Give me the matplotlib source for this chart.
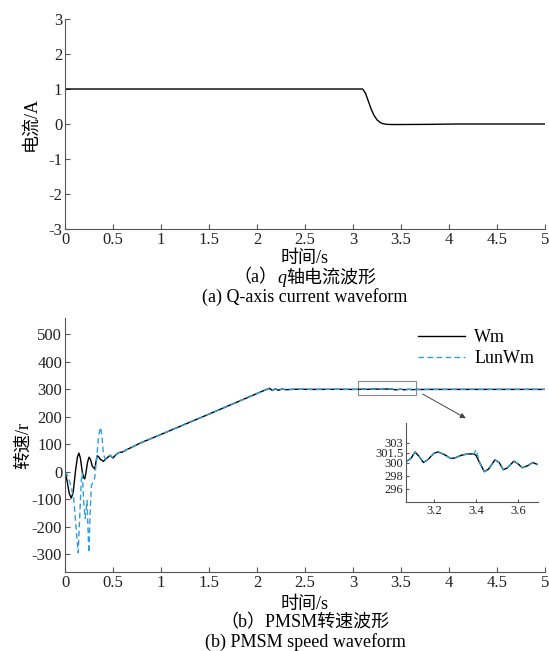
import matplotlib
matplotlib.use("Agg")
import matplotlib.pyplot as plt
from matplotlib.patches import Rectangle
from matplotlib.offsetbox import TextArea, HPacker, AnnotationBbox

plt.rcParams['font.family'] = ['Liberation Serif', 'Noto Sans CJK SC']
plt.rcParams['axes.unicode_minus'] = False

# ---------------- data ----------------
# (a) q-axis current
t_iq = [0.0, 1.0, 2.0, 3.0, 3.10, 3.13, 3.16, 3.19, 3.22, 3.25, 3.28, 3.31, 3.35, 3.40, 3.50, 3.80, 4.10, 5.0]
iq = [1.0, 1.0, 1.0, 1.0, 1.0, 0.88, 0.65, 0.42, 0.24, 0.12, 0.05, 0.01, -0.01, -0.015, -0.015, -0.01, 0.0, 0.0]

# (b) speed: start-up part
t_wm_start = [0.0, 0.02, 0.045, 0.065, 0.085, 0.11, 0.13, 0.145, 0.16, 0.18, 0.195, 0.205, 0.215, 0.235, 0.25, 0.265, 0.285,
              0.31, 0.325, 0.335, 0.35, 0.37, 0.40, 0.43, 0.47, 0.50, 0.53, 0.56, 0.60, 0.64]
wm_start = [0.0, -30, -80, -96, -75, 5, 55, 68, 50, 0, -22, -26, -10, 35, 53, 45, 20,
            10, 40, 58, 55, 45, 38, 48, 60, 50, 62, 70, 72, 80]
t_lun_start = [0.0, 0.03, 0.06, 0.09, 0.11, 0.137, 0.155, 0.17, 0.18, 0.195, 0.21, 0.23, 0.248,
               0.262, 0.275, 0.29, 0.31, 0.33, 0.35, 0.37, 0.385, 0.40, 0.42, 0.45, 0.47, 0.50,
               0.53, 0.56, 0.60, 0.64]
lun_start = [0.0, -15, -50, -95, -180, -295, -150, -30, -5, -110, -170, -105, -295,
             -150, -50, -40, -20, 50, 130, 162, 130, 64, 45, 52, 60, 50,
             62, 70, 72, 80]

# ramp + steady part (common to both)
t_ramp = [0.80, 1.0, 1.5, 2.0, 2.10, 2.13, 2.16, 2.19, 2.22, 2.26, 2.30, 2.40, 2.6, 2.8, 3.0]
v_ramp = [107, 136, 210, 285, 300, 304, 296, 302, 297, 301, 299, 300.5, 300, 300.3, 300]

# detail window (3.07 - 3.70 s)
t_det = [3.07, 3.09, 3.11, 3.13, 3.15, 3.17, 3.20, 3.22, 3.25, 3.28, 3.30, 3.33, 3.36, 3.39,
         3.40, 3.42, 3.44, 3.46, 3.49, 3.51, 3.53, 3.55, 3.58, 3.60, 3.62, 3.645, 3.67, 3.70]
wm_det = [300.2, 300.6, 301.6, 300.9, 300.0, 300.4, 301.4, 301.6, 301.2, 300.6, 300.7, 301.1, 301.3, 301.3,
          301.1, 299.8, 298.6, 299.0, 300.4, 300.0, 298.9, 299.2, 300.2, 299.8, 299.2, 299.5, 300.0, 299.6]
lun_det = [300.2, 300.6, 301.6, 300.9, 300.0, 300.4, 301.4, 301.6, 301.2, 300.6, 300.7, 301.1, 301.3, 301.3,
           301.9, 299.8, 298.6, 299.0, 300.4, 300.0, 298.9, 299.2, 300.2, 299.8, 299.2, 299.5, 300.0, 299.6]

t_tail = [3.80, 4.0, 4.5, 5.0]
v_tail = [300, 300, 300, 300]

t_wm = t_wm_start + t_ramp + t_det + t_tail
wm = wm_start + v_ramp + wm_det + v_tail
t_lun = t_lun_start + t_ramp + t_det + t_tail
lun = lun_start + v_ramp + lun_det + v_tail

xticks = [0, 0.5, 1, 1.5, 2, 2.5, 3, 3.5, 4, 4.5, 5]
xticklabels = ['0', '0.5', '1', '1.5', '2', '2.5', '3', '3.5', '4', '4.5', '5']
yticks_a = [-3, -2, -1, 0, 1, 2, 3]
yticks_b = [-300, -200, -100, 0, 100, 200, 300, 400, 500]
inset_xticks = [3.2, 3.4, 3.6]
inset_yticks = [296, 298, 300, 301.5, 303]
inset_yticklabels = ['296', '298', '300', '301.5', '303']

BLUE = '#2f9fe0'
SPINE = '#555555'

fig = plt.figure(figsize=(5.49, 6.51), dpi=100)


def style(ax, fs=12):
    for s in ['top', 'right']:
        ax.spines[s].set_visible(False)
    for s in ['left', 'bottom']:
        ax.spines[s].set_color(SPINE)
        ax.spines[s].set_linewidth(0.8)
    ax.tick_params(direction='in', length=3.5, width=0.8, color=SPINE,
                   labelsize=fs, labelcolor='#222222', pad=2)


# ---------------- (a) ----------------
ax1 = fig.add_axes([65 / 549, 1 - 229 / 651, 480 / 549, 210 / 651])
ax1.plot(t_iq, iq, color='black', lw=1.0)
ax1.set_xlim(0, 5)
ax1.set_ylim(-3, 3)
ax1.set_xticks(xticks)
ax1.set_xticklabels(xticklabels)
ax1.set_yticks(yticks_a)
style(ax1)
ax1.set_ylabel('电流/A', fontsize=13, labelpad=6)
fig.text(305 / 549, 1 - 258 / 651, '时间/s', ha='center', va='center', fontsize=13)

parts = [TextArea('（a）', textprops=dict(fontsize=13)),
         TextArea('q', textprops=dict(fontsize=13, style='italic')),
         TextArea('轴电流波形', textprops=dict(fontsize=13))]
pack = HPacker(children=parts, pad=0, sep=0, align='baseline')
ab = AnnotationBbox(pack, (305 / 549, 1 - 278 / 651), xycoords='figure fraction',
                    frameon=False, box_alignment=(0.5, 0.5), pad=0)
fig.add_artist(ab)
fig.text(305 / 549, 1 - 297 / 651, '(a) Q-axis current waveform', ha='center', va='center', fontsize=13)

# ---------------- (b) ----------------
ax2 = fig.add_axes([65 / 549, 1 - 572 / 651, 480 / 549, 254 / 651])
ax2.plot(t_wm, wm, color='black', lw=1.0, label='Wm')
ax2.plot(t_lun, lun, color=BLUE, lw=1.0, ls=(0, (4, 2.5)), label='LunWm')
ax2.set_xlim(0, 5)
ax2.set_ylim(-365, 560)
ax2.set_xticks(xticks)
ax2.set_xticklabels(xticklabels)
ax2.set_yticks(yticks_b)
style(ax2)
ax2.set_ylabel('转速/r', fontsize=13, labelpad=0)
fig.text(305 / 549, 1 - 604 / 651, '时间/s', ha='center', va='center', fontsize=13)
fig.text(305 / 549, 1 - 623 / 651, '（b）PMSM转速波形', ha='center', va='center', fontsize=13)
fig.text(305 / 549, 1 - 642 / 651, '(b) PMSM speed waveform', ha='center', va='center', fontsize=13)

leg = ax2.legend(loc='upper right', bbox_to_anchor=(1.0, 1.0), frameon=False, fontsize=13,
                 handlelength=2.6, handletextpad=0.5, labelspacing=0.25, borderaxespad=0.2)

ax2.add_patch(Rectangle((3.05, 280), 0.61, 52, fill=False, edgecolor='#888888', lw=0.8))
ax2.annotate('', xy=(4.20, 190), xytext=(3.70, 288),
             arrowprops=dict(arrowstyle='-|>', color='#444444', lw=0.7, mutation_scale=8))

# inset
axi = fig.add_axes([406 / 549, 1 - 502 / 651, 132 / 549, 79 / 651])
axi.plot(t_det, wm_det, color='black', lw=1.0)
axi.plot(t_det, lun_det, color=BLUE, lw=1.0, ls=(0, (4, 2.5)))
axi.set_xlim(3.067, 3.695)
axi.set_ylim(294, 306)
axi.set_xticks(inset_xticks)
axi.set_yticks(inset_yticks)
axi.set_yticklabels(inset_yticklabels)
style(axi, fs=9)
axi.tick_params(length=2.5, pad=2)

fig.savefig('out.png', dpi=100)
